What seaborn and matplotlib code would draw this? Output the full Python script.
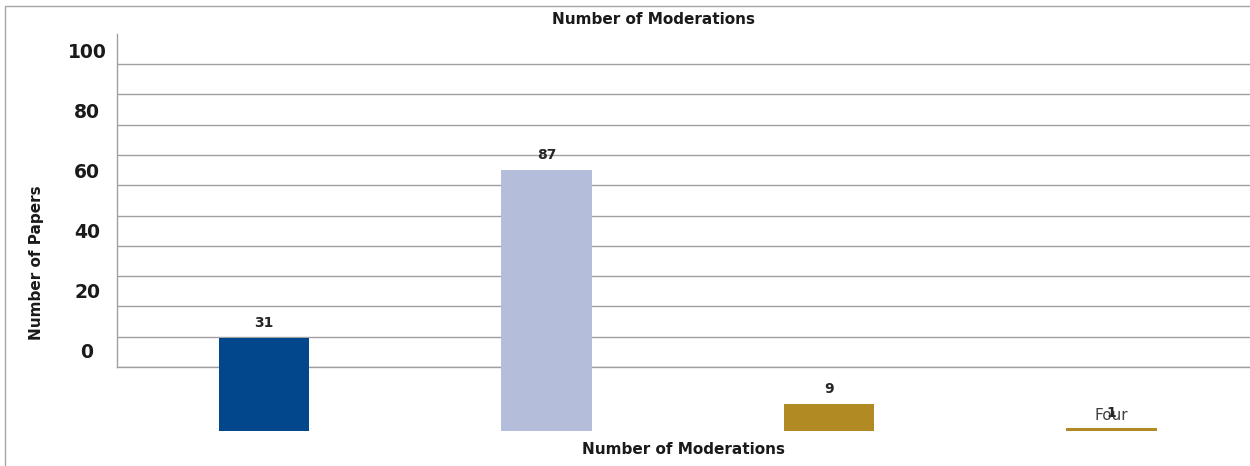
import numpy as np
import matplotlib
matplotlib.use("Agg")
import matplotlib.pyplot as plt
import seaborn as sns
from matplotlib.patches import Rectangle

# data
categories = ["One", "Two", "Three", "Four"]
papers = [31, 87, 9, 1]
bar_colors = ["#02468B", "#B4BDDA", "#B28A23", "#B28A23"]
tick_values = [0, 20, 40, 60, 80, 100]

sns.set_style("white")
plt.rcParams["font.family"] = ["DejaVu Sans"]

fig = plt.figure(figsize=(12.5, 4.66), dpi=100)
ax = fig.add_axes([117 / 1250, 1 - 367 / 466, 1 - 117 / 1250, (367 - 34) / 466])

sns.barplot(
    x=categories, y=papers, hue=categories, palette=bar_colors, legend=False,
    width=0.32, saturation=1, linewidth=0, zorder=3, clip_on=False, ax=ax,
)

# the chart is "broken": bars sit below the axis, labels are offset
ax.set_ylim(64 / 3, 397 / 3)
ax.set_xlim(-0.520, 3.490)

label_offset = 27.0
ax.set_yticks(np.array(tick_values) + label_offset, labels=[str(v) for v in tick_values])
plt.setp(ax.get_yticklabels(), ha="center", fontsize=13.5, fontweight="bold", color="#1a1a1a")
ax.tick_params(axis="y", length=0, pad=21.6)

ax.set_yticks(64 / 3 + 10.1 * np.arange(11), minor=True)
ax.tick_params(axis="y", which="minor", length=0)
ax.grid(False)
ax.grid(True, which="minor", axis="y", color="#A0A0A0", linewidth=1.0)

ax.tick_params(axis="x", length=0, pad=29.5, labelsize=11, labelcolor="#404040")

for c in ax.containers:
    for t in ax.bar_label(c, fmt="%d", padding=6, fontsize=10, fontweight="bold", color="#262626"):
        t.set_annotation_clip(False)

for side in ["top", "right"]:
    ax.spines[side].set_visible(False)
for side in ["left", "bottom"]:
    ax.spines[side].set_color("#A0A0A0")
    ax.spines[side].set_linewidth(1.0)

ax.set_xlabel("")
ax.set_ylabel("")

fig.text(654 / 1250, 1 - 20 / 466, "Number of Moderations", ha="center", va="center",
         fontsize=11, fontweight="bold", color="#1a1a1a")
fig.text(684 / 1250, 1 - 450 / 466, "Number of Moderations", ha="center", va="center",
         fontsize=11, fontweight="bold", color="#1a1a1a")
fig.text(37 / 1250, 1 - 263 / 466, "Number of Papers", ha="center", va="center",
         rotation=90, fontsize=11, fontweight="bold", color="#1a1a1a")

# outer chart frame
fig.patches.append(Rectangle((4.5 / 1250, -0.1), 1.2, 1.1 - 6.5 / 466,
                             transform=fig.transFigure, fill=False,
                             edgecolor="#A6A6A6", linewidth=1.0))

fig.savefig("out.png", dpi=100)
